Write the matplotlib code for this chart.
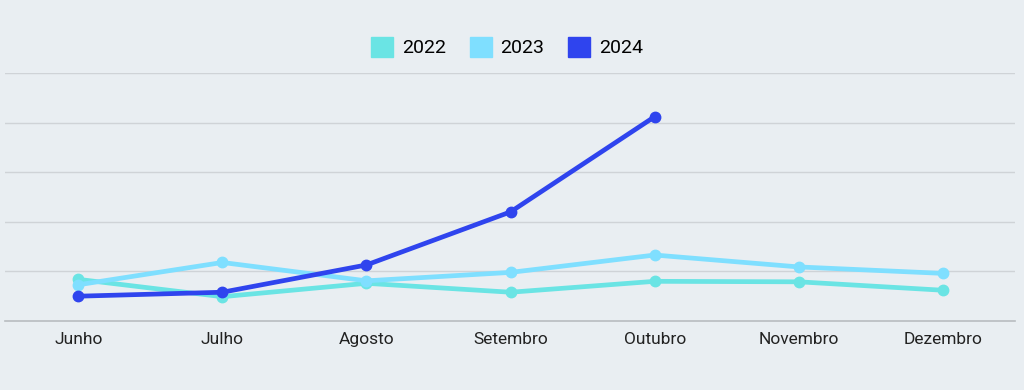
import numpy as np
import matplotlib.pyplot as plt
from matplotlib.patches import Patch

plt.rcParams['font.family'] = ['Roboto', 'DejaVu Sans']

meses = ['Junho', 'Julho', 'Agosto', 'Setembro', 'Outubro', 'Novembro', 'Dezembro']
v2022 = [0.84, 0.49, 0.76, 0.58, 0.80, 0.79, 0.62]
v2023 = [0.73, 1.18, 0.81, 0.98, 1.33, 1.09, 0.96]
v2024 = [0.50, 0.58, 1.13, 2.20, 4.12]
anos = ['2022', '2023', '2024']
cores = ['#6ae4e4', '#7fdfff', '#2f44ee']

bg = '#e9eef2'
fig = plt.figure(figsize=(10.24, 3.9), dpi=100, facecolor=bg)
ax = fig.add_axes([5/1024, 69/390, 1010/1024, 248/390], facecolor=bg)

x = np.arange(len(meses))
for vals, c in zip([v2022, v2023, v2024], cores):
    ax.plot(x[:len(vals)], vals, color=c, lw=3.4, marker='o', ms=7.5,
            solid_capstyle='round', zorder=3)

ax.set_xlim(-0.508, 6.5)
ax.set_ylim(0, 5)
ax.set_yticks([1, 2, 3, 4, 5])
ax.yaxis.grid(True, color='#cfd3d7', lw=1)
ax.set_yticklabels([])
ax.tick_params(axis='y', length=0)
ax.set_xticks(x)
ax.set_xticklabels(meses, fontsize=12.5, color='#222222')
ax.tick_params(axis='x', length=0, pad=8)
for s in ['top', 'right', 'left']:
    ax.spines[s].set_visible(False)
ax.spines['bottom'].set_color('#b8bcc0')
ax.spines['bottom'].set_linewidth(1.2)

handles = [Patch(facecolor=c, edgecolor=c) for c in cores]
fig.legend(handles, anos, loc='center', bbox_to_anchor=(507/1024, 1 - 47/390),
           ncol=3, frameon=False, fontsize=14, handlelength=1.15, handleheight=1.2,
           handletextpad=0.45, columnspacing=1.2)

fig.savefig('out.png', dpi=100, facecolor=bg)
